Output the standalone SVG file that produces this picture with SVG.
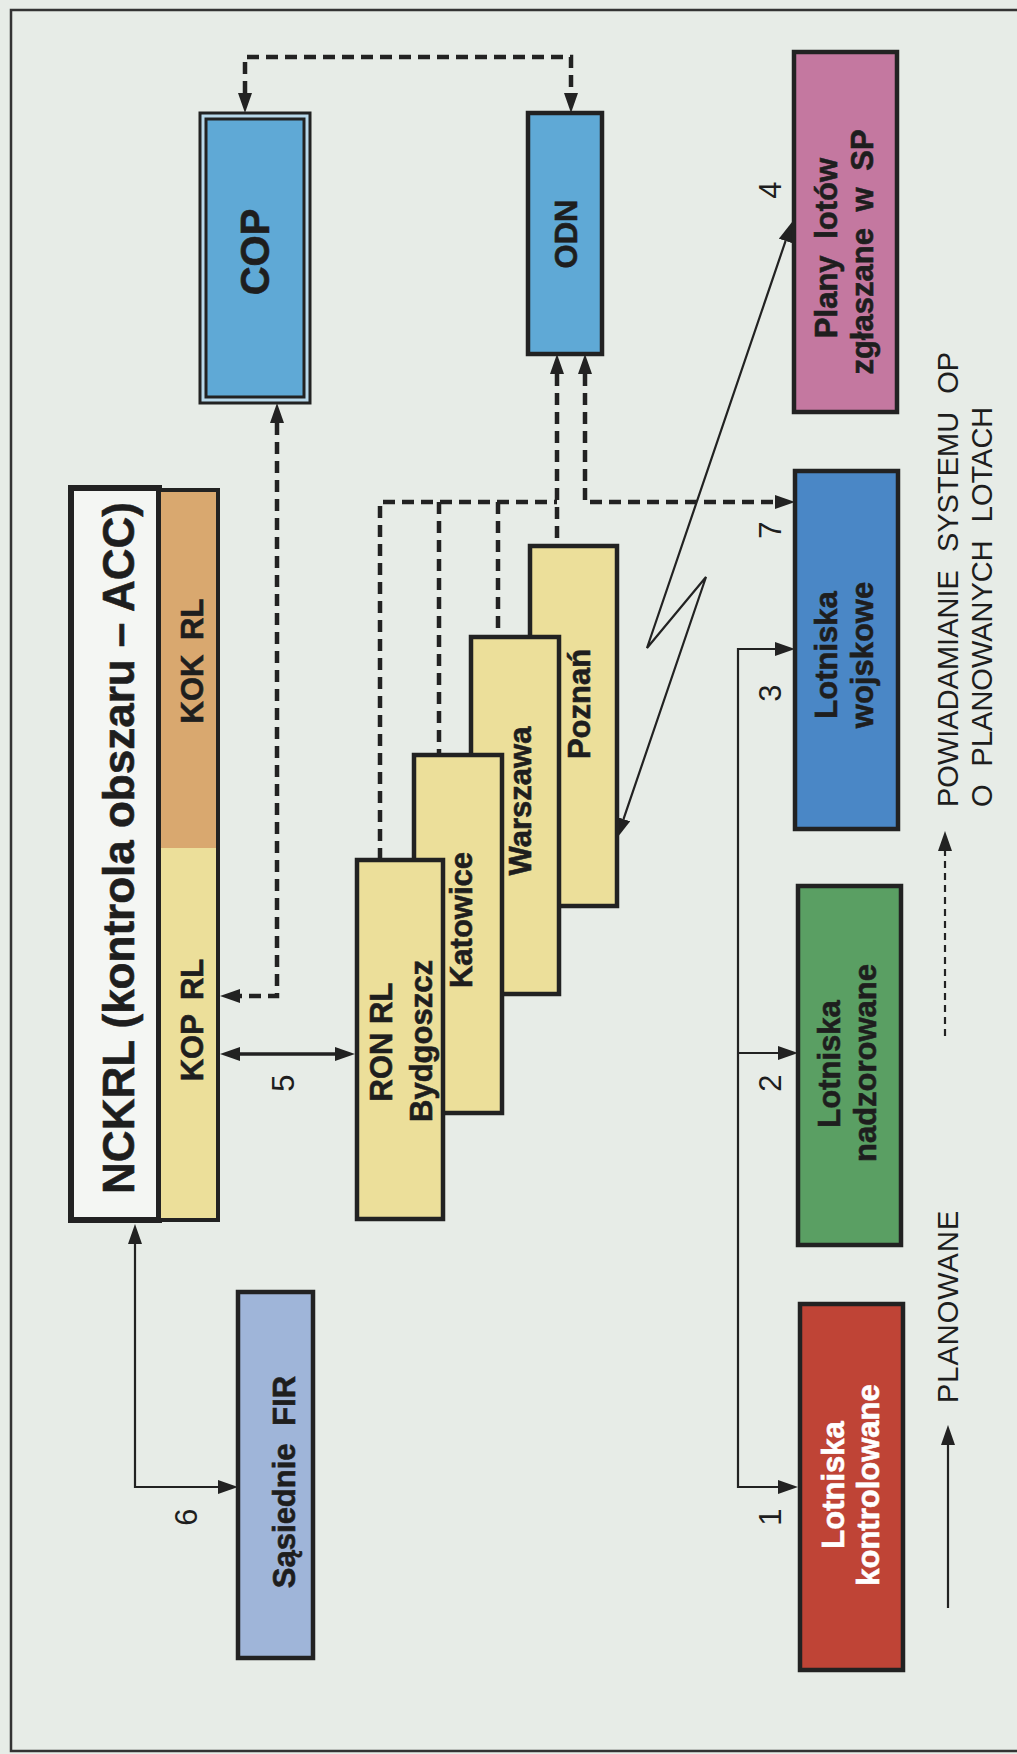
<svg xmlns="http://www.w3.org/2000/svg" width="1017" height="1754" viewBox="0 0 1017 1754">
<style>
.box{stroke:#222;stroke-width:4.5}
.lbl{font-family:"Liberation Sans",Arial,sans-serif;font-weight:bold;font-size:31px;fill:#1e1e1e;stroke:#1e1e1e;stroke-width:0.6;text-anchor:middle;dominant-baseline:central}
.num{font-family:"Liberation Sans",Arial,sans-serif;font-size:31px;fill:#1e1e1e;text-anchor:middle;dominant-baseline:central}
.leg{font-family:"Liberation Sans",Arial,sans-serif;font-size:29px;fill:#1e1e1e;dominant-baseline:central;word-spacing:10px}
.dash{fill:none;stroke:#222;stroke-width:4.5;stroke-dasharray:12 7}
.thin{fill:none;stroke:#222;stroke-width:2.2}
</style>
<defs>
<marker id="ah" viewBox="0 0 20 14" refX="0" refY="7" markerWidth="20" markerHeight="14" markerUnits="userSpaceOnUse" orient="auto-start-reverse">
<path d="M0,0 L20,7 L0,14 z" fill="#222"/>
</marker>
</defs>
<rect x="0" y="0" width="1017" height="1754" fill="#e7ece7"/>
<path d="M1017,10 H11 V1751 H1017" fill="none" stroke="#333" stroke-width="2.5"/>

<g id="connectors">
<path class="dash" d="M245,93 V57 H571 V93" marker-start="url(#ah)" marker-end="url(#ah)"/>
<path class="dash" d="M277,423 V996 H240" marker-start="url(#ah)" marker-end="url(#ah)"/>
<path class="dash" d="M557,374 V546" marker-start="url(#ah)"/>
<path class="dash" d="M380,860 V502 H557"/>
<path class="dash" d="M439,502 V756"/>
<path class="dash" d="M498,502 V637"/>
<path class="dash" d="M585,374 V502 H775" marker-start="url(#ah)" marker-end="url(#ah)"/>
<path class="thin" d="M785.6,240.9 L647,648 L706,577 L623.5,819.1" marker-start="url(#ah)" marker-end="url(#ah)"/>
<path class="thin" style="stroke-width:3.5" d="M240,1054 H335" marker-start="url(#ah)" marker-end="url(#ah)"/>
<path class="thin" d="M135,1244 V1487 H218" marker-start="url(#ah)" marker-end="url(#ah)"/>
<path class="thin" d="M775,649 H738 V1487 H778" marker-start="url(#ah)" marker-end="url(#ah)"/>
<path class="thin" d="M738,1053 H778" marker-end="url(#ah)"/>
<path class="thin" d="M948,1608 V1445" marker-end="url(#ah)"/>
<path class="thin" style="stroke-dasharray:7 5" d="M945,1036 V851" marker-end="url(#ah)"/>
</g>

<g id="COP">
<rect x="200" y="113" width="110" height="290" fill="#b8d8ea" stroke="#222" stroke-width="3"/>
<rect x="206" y="119" width="98" height="278" fill="#5fa9d6" stroke="#222" stroke-width="3"/>
<text class="lbl" style="font-size:40px" transform="translate(255,252) rotate(-90)">COP</text>
</g>
<g id="ODN">
<rect class="box" x="528" y="113" width="74" height="241" fill="#5fa9d6"/>
<text class="lbl" transform="translate(566,234) rotate(-90)">ODN</text>
</g>
<g id="plany">
<rect class="box" x="794" y="52" width="103" height="360" fill="#c478a0"/>
<text class="lbl" style="word-spacing:8px" transform="translate(826,248) rotate(-90)">Plany lotów</text>
<text class="lbl" style="word-spacing:8px" transform="translate(862,252) rotate(-90)">zgłaszane w SP</text>
</g>
<g id="NCKRL">
<rect x="71" y="488" width="88" height="732" fill="#f4f6f3" stroke="#222" stroke-width="6"/>
<text class="lbl" style="font-size:44px" transform="translate(118,848) rotate(-90)">NCKRL (kontrola  obszaru – ACC)</text>
</g>
<g id="KOK">
<rect x="159" y="490" width="59" height="358" fill="#d9a86f"/>
<text class="lbl" style="word-spacing:6px" transform="translate(192,661) rotate(-90)">KOK RL</text>
</g>
<g id="KOP">
<rect x="159" y="848" width="59" height="372" fill="#ecdf9a"/>
<rect x="159" y="490" width="59" height="730" fill="none" stroke="#222" stroke-width="4"/>
<text class="lbl" style="word-spacing:6px" transform="translate(192,1020) rotate(-90)">KOP RL</text>
</g>
<g id="poznan">
<rect class="box" x="530" y="546" width="87" height="360" fill="#ecdf9a"/>
<text class="lbl" transform="translate(579,704) rotate(-90)">Poznań</text>
</g>
<g id="warszawa">
<rect class="box" x="471" y="637" width="88" height="357" fill="#ecdf9a"/>
<text class="lbl" transform="translate(520,801) rotate(-90)">Warszawa</text>
</g>
<g id="katowice">
<rect class="box" x="414" y="755" width="88" height="358" fill="#ecdf9a"/>
<text class="lbl" transform="translate(461,920) rotate(-90)">Katowice</text>
</g>
<g id="RON">
<rect class="box" x="357" y="860" width="86" height="359" fill="#ecdf9a"/>
<text class="lbl" transform="translate(381,1042) rotate(-90)">RON RL</text>
<text class="lbl" transform="translate(421,1041) rotate(-90)">Bydgoszcz</text>
</g>
<g id="wojskowe">
<rect class="box" x="795" y="471" width="103" height="358" fill="#4a87c6"/>
<text class="lbl" transform="translate(826,655) rotate(-90)">Lotniska</text>
<text class="lbl" transform="translate(862,655) rotate(-90)">wojskowe</text>
</g>
<g id="nadzorowane">
<rect class="box" x="798" y="886" width="103" height="359" fill="#5a9f63"/>
<text class="lbl" transform="translate(829,1064) rotate(-90)">Lotniska</text>
<text class="lbl" transform="translate(865,1063) rotate(-90)">nadzorowane</text>
</g>
<g id="kontrolowane">
<rect class="box" x="800" y="1304" width="103" height="366" fill="#bf4436"/>
<text class="lbl" style="fill:#fff;stroke:#fff" transform="translate(833,1485) rotate(-90)">Lotniska</text>
<text class="lbl" style="fill:#fff;stroke:#fff" transform="translate(868,1485) rotate(-90)">kontrolowane</text>
</g>
<g id="sasiednie">
<rect class="box" x="238" y="1292" width="75" height="366" fill="#9fb5d9"/>
<text class="lbl" style="word-spacing:9px" transform="translate(284,1482) rotate(-90)">Sąsiednie FIR</text>
</g>

<g id="labels">
<text class="num" transform="translate(770,190) rotate(-90)">4</text>
<text class="num" transform="translate(770,530) rotate(-90)">7</text>
<text class="num" transform="translate(770,693) rotate(-90)">3</text>
<text class="num" transform="translate(770,1083) rotate(-90)">2</text>
<text class="num" transform="translate(770,1517) rotate(-90)">1</text>
<text class="num" transform="translate(283,1083) rotate(-90)">5</text>
<text class="num" transform="translate(186,1517) rotate(-90)">6</text>
</g>
<g id="legend">
<text class="leg" style="letter-spacing:1px" transform="translate(948,1403) rotate(-90)">PLANOWANE</text>
<text class="leg" transform="translate(948,807) rotate(-90)">POWIADAMIANIE SYSTEMU OP</text>
<text class="leg" transform="translate(982,807) rotate(-90)">O PLANOWANYCH LOTACH</text>
</g>
</svg>
